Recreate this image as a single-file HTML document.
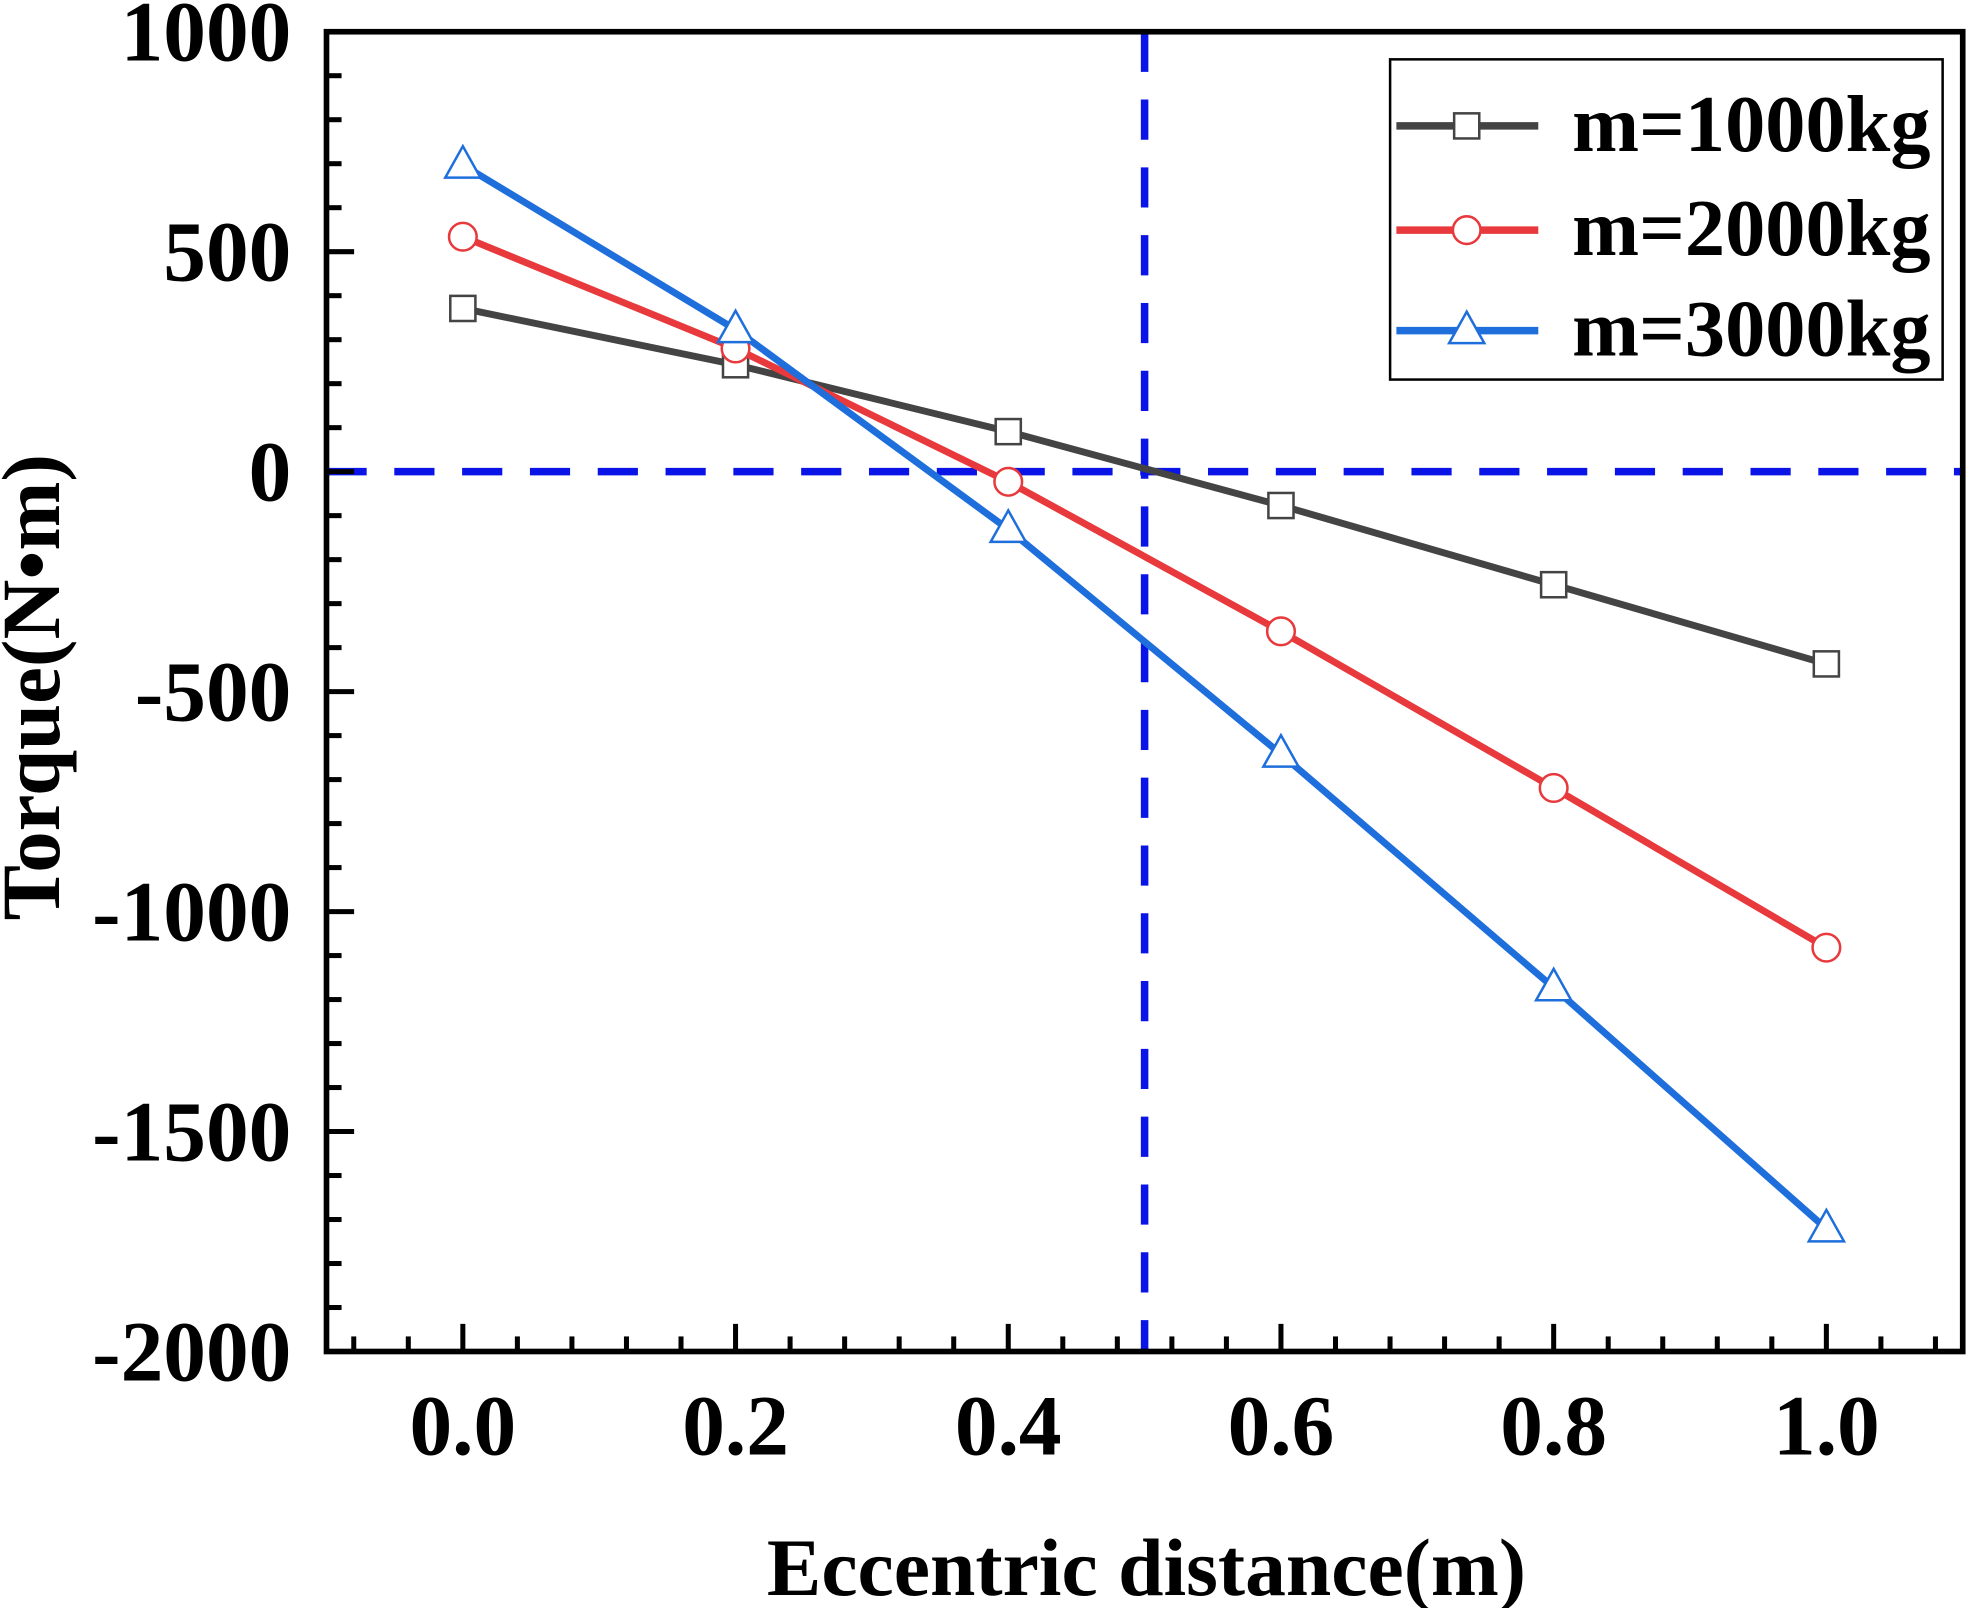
<!DOCTYPE html>
<html><head><meta charset="utf-8"><style>
html,body{margin:0;padding:0;background:#fff;}
svg{display:block;font-family:"Liberation Serif",serif;font-weight:bold;}
</style></head><body>
<svg id="chart" width="1969" height="1608" viewBox="0 0 1568 1280" xmlns="http://www.w3.org/2000/svg">
<g id="plot"></g>
</svg>
<script>
const xCats = [0.0, 0.2, 0.4, 0.6, 0.8, 1.0];
const xTickLabels = ["0.0","0.2","0.4","0.6","0.8","1.0"];
const yTicks = [1000, 500, 0, -500, -1000, -1500, -2000];
const yTickLabels = ["1000","500","0","-500","-1000","-1500","-2000"];
const m1000 = [371, 243, 91, -77, -257, -437];
const m2000 = [534, 280, -23, -363, -719, -1082];
const m3000 = [697, 323, -131, -642, -1173, -1721];
const seriesNames = ["m=1000kg","m=2000kg","m=3000kg"];
const refX = 0.5, refY = 0;

const L=260,R=1563,T=25,B=1076, xMin=-0.1,xMax=1.1,yMin=-2000,yMax=1000;
const sx=v=>L+(v-xMin)/(xMax-xMin)*(R-L);
const sy=v=>B-(v-yMin)/(yMax-yMin)*(B-T);
const NS="http://www.w3.org/2000/svg";
const g=document.getElementById('plot');
function el(tag,attrs,parent){const e=document.createElementNS(NS,tag);for(const k in attrs)e.setAttribute(k,attrs[k]);(parent||g).appendChild(e);return e;}

let d1=el('line',{x1:L,x2:R,y1:sy(refY),y2:sy(refY),stroke:'#0a14e6','stroke-width':6,'stroke-dasharray':'32 22'});


let d2=el('line',{x1:sx(refX),x2:sx(refX),y1:T,y2:B,stroke:'#0a14e6','stroke-width':6,'stroke-dasharray':'32 22'});



for(let v=-2000;v<=1000;v+=100){const major=v%500===0;const y=sy(v);
 const t=el('line',{x1:L,x2:L+(major?22:12),y1:y,y2:y,stroke:'#000','stroke-width':4});
 
 }
for(let i=0;i<=30;i++){const v=-0.08+i*0.04;if(v>1.09)break;const x=sx(v);const major=Math.abs((v*5)-Math.round(v*5))<1e-6;
 const t=el('line',{x1:x,x2:x,y1:B,y2:B-(major?22:12),stroke:'#000','stroke-width':4});
 
 }
yTicks.forEach((v,i)=>{const t=el('text',{x:232,y:sy(v)+23,'text-anchor':'end','font-size':68});t.textContent=yTickLabels[i];
 
 });
xCats.forEach((v,i)=>{const t=el('text',{x:sx(v),y:1158,'text-anchor':'middle','font-size':68});t.textContent=xTickLabels[i];
 
 });

const fr=el('rect',{x:L,y:T,width:R-L,height:B-T,fill:'none',stroke:'#000','stroke-width':4.5});



function marker(type,x,y,color,parent){
 let m;
 if(type==='sq')m=el('rect',{x:x-10,y:y-10,width:20,height:20,fill:'#fff',stroke:color,'stroke-width':2},parent);
 else if(type==='ci')m=el('circle',{cx:x,cy:y,r:11,fill:'#fff',stroke:color,'stroke-width':2},parent);
 else m=el('polygon',{points:`${x},${y-15} ${x-14},${y+10} ${x+14},${y+10}`,fill:'#fff',stroke:color,'stroke-width':2},parent);
 return m;
}
const series=[[m1000,'#444444','sq','series-m1000'],[m2000,'#e8393c','ci','series-m2000'],[m3000,'#1e6fdc','tr','series-m3000']];
series.forEach(([vals,color,type,name])=>{
 const sg=el('g',{});
 
 
 const pts=vals.map((v,i)=>sx(xCats[i])+','+sy(v)).join(' ');
 el('polyline',{points:pts,fill:'none',stroke:color,'stroke-width':5.5},sg);
 vals.forEach((v,i)=>{const m=marker(type,sx(xCats[i]),sy(v),color,sg);
  
  });
});

const lg=el('g',{});


el('rect',{x:1107,y:47,width:440,height:255,fill:'#fff',stroke:'#000','stroke-width':2},lg);
const ly=[100,183,263];
series.forEach(([vals,color,type,name],i)=>{
 const e=el('g',{},lg);
 
 
 el('line',{x1:1112,x2:1225,y1:ly[i],y2:ly[i],stroke:color,'stroke-width':6},e);
 marker(type,1168,ly[i],color,e);
 const t=el('text',{x:1252,y:ly[i]+20,'font-size':64},e);t.textContent=seriesNames[i];
});

const xt=el('text',{x:913,y:1270,'text-anchor':'middle','font-size':65});xt.textContent='Eccentric distance(m)';


const yt=el('text',{x:0,y:0,'text-anchor':'middle','font-size':66,transform:'translate(47,547) rotate(-90)'});yt.textContent='Torque(N•m)';


</script>
</body></html>
